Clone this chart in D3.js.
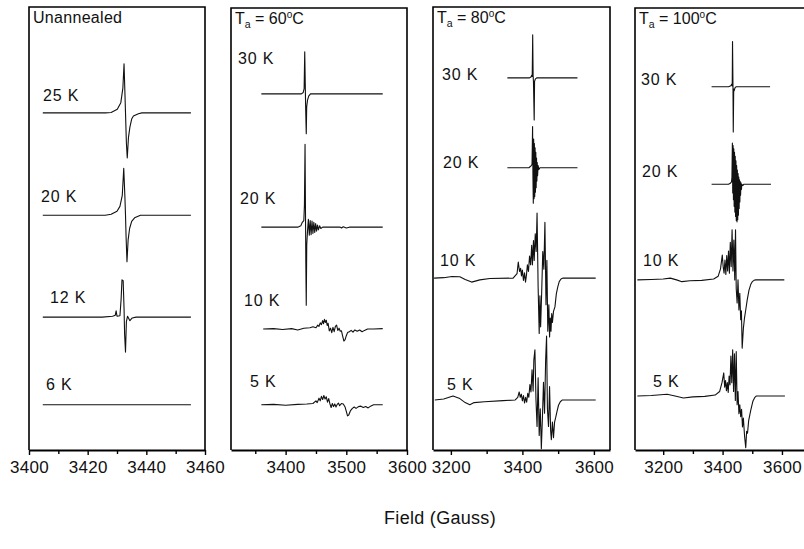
<!DOCTYPE html>
<html><head><meta charset="utf-8">
<script src="https://cdn.jsdelivr.net/npm/d3@7/dist/d3.min.js"></script>
<style>
html,body{margin:0;padding:0;background:#fff;}
svg{display:block;font-family:"Liberation Sans",Arial,Helvetica,sans-serif;}
</style></head>
<body><svg id="chart" width="804" height="549"></svg>
<script>
// ---------- DATA ----------
const panelTitles = ["Unannealed", "60", "80", "100"];           // annealing temperature (°C)
const fieldDomains = [[3400, 3460], [3310, 3600], [3150, 3645], [3105, 3681]];
const majorTicks = [[3400, 3420, 3440, 3460], [3400, 3500, 3600], [3200, 3400, 3600], [3200, 3400, 3600]];
const minorTicks = [[3410, 3430, 3450], [3350, 3450, 3550], [3300, 3500], [3300, 3500]];
const tempLabels = [["25 K", "20 K", "12 K", "6 K"], ["30 K", "20 K", "10 K", "5 K"],
                    ["30 K", "20 K", "10 K", "5 K"], ["30 K", "20 K", "10 K", "5 K"]];
const stackOffsets = [[76.1, 53.0, 30.0, 10.2], [80.4, 50.3, 27.3, 10.2],
                      [84.0, 63.7, 38.8, 11.3], [82.0, 60.0, 38.4, 12.2]];

// spectra: [field (G), signal (a.u.)]
const unann25K = [[3404.7,0],[3426,0],[3428,0.1],[3430.1,0.8],[3431.3,2.3],[3432.0,5.6],[3432.4,11.1],[3432.7,4.5],[3432.9,0],[3433.2,-6.8],[3433.5,-10.2],[3433.9,-5.6],[3434.4,-3.2],[3435,-1.4],[3435.6,-0.7],[3437.3,-0.2],[3438.5,0],[3455.2,0]];
const unann20K = [[3404.7,0],[3426,0],[3428,0.2],[3430,0.9],[3431,2.0],[3431.8,4.5],[3432.3,10.6],[3432.7,4],[3432.9,0],[3433.1,-5],[3433.4,-10.5],[3433.8,-5.5],[3434.3,-3.0],[3435,-1.4],[3436,-0.6],[3438,0],[3455.2,0]];
const unann12K = [[3404.7,0],[3425,0],[3428.5,0.2],[3429.4,0.4],[3429.7,1.4],[3430.0,0.2],[3431.0,0.3],[3431.4,4],[3431.7,8.4],[3432.1,8.2],[3432.4,2],[3432.6,-4],[3432.9,-7.9],[3433.2,-1],[3433.6,0.2],[3434.4,-0.8],[3435.2,-0.2],[3436.5,0],[3455.2,0]];
const unann6K = [[3404.7,0],[3420,0],[3440,0],[3455.2,0]];

const t60_30K = [[3360,0],[3426,0],[3429,0.3],[3430.5,1.2],[3431.5,9.5],[3432.5,1],[3433,-3],[3434,-9.0],[3434.7,-3],[3436,-1.5],[3438,-0.5],[3441,0],[3560,0]];
const t60_20K = [[3360,0],[3420,0],[3425,0.3],[3427.5,1.1],[3430,1.5],[3431,5],[3432,18.7],[3432.8,2],[3433.3,-8],[3434,-17.6],[3434.8,-4],[3436,-1],[3437.5,1.8],[3439,-1.8],[3440.5,1.5],[3442,-1.7],[3443.5,1.4],[3445,-1.4],[3446.5,1.1],[3448,-1.2],[3449.5,0.8],[3451,-0.9],[3452.5,0.5],[3454,-0.6],[3456,0.3],[3458,-0.3],[3461,0],[3490,0],[3492,-0.2],[3495,0.1],[3500,-0.2],[3505,0],[3560,0]];
const t60_10K = [[3363,0],[3380,0.1],[3395,-0.1],[3410,0.1],[3420,-0.2],[3430,0.2],[3440,0.3],[3445,0.5],[3450,0.3],[3453,0.9],[3455,0.6],[3457,1.4],[3459,1.0],[3461,1.9],[3462.5,1.2],[3464,2.2],[3465.5,1.5],[3467,2.0],[3468.5,0.8],[3470,1.3],[3472,-0.4],[3474,0.2],[3476,-0.8],[3478,0.4],[3480,-0.6],[3482,0.6],[3484,0.9],[3486,-0.3],[3488,0.2],[3490,-0.5],[3492,-0.4],[3494,-1.6],[3496,-2.7],[3498,-2.4],[3500,-1.5],[3502,-0.8],[3505,-0.6],[3508,-0.3],[3511,-0.7],[3514,-0.2],[3518,-0.5],[3522,-0.2],[3526,-0.6],[3530,-0.3],[3535,0],[3545,0],[3560,0.1]];
const t60_5K = [[3360,0],[3380,0.1],[3400,-0.1],[3420,0.1],[3435,0.2],[3445,0.3],[3450,0.9],[3452,0.5],[3455,1.5],[3457,0.9],[3459,1.9],[3461,1.2],[3463,2.1],[3465,1.3],[3467,1.8],[3469,0.6],[3471,1.4],[3473,0.2],[3475,-0.6],[3477,0.3],[3479,-0.4],[3481,0.2],[3483,-0.5],[3485,0.1],[3487,0.4],[3489,-0.2],[3492,0.3],[3495,0.2],[3498,-0.5],[3500,-1.5],[3502,-2.5],[3504,-2.3],[3507,-1.3],[3510,-0.8],[3513,-0.5],[3516,-0.8],[3520,-0.4],[3524,-0.3],[3528,-0.6],[3532,-0.4],[3536,-0.7],[3540,-0.3],[3545,0],[3560,0]];

const t80_30K = [[3358,0],[3420,0],[3424,0.2],[3426,0.6],[3427.5,0.3],[3428.8,9.7],[3430,0.5],[3431,-1],[3433,-9.5],[3434,-0.8],[3436,-0.3],[3440,0],[3554,0]];
const t80_20K = [[3358,0],[3418,0],[3422,0.3],[3425,0.5],[3427,0.8],[3428.5,9.3],[3429.5,-2],[3430.5,-8],[3431.5,6.5],[3432.5,-7],[3433.5,5.5],[3434.5,-6.5],[3435.5,4.5],[3436.5,-5.5],[3437.5,3.5],[3438.5,-4.5],[3439.5,2.2],[3440.5,-3],[3441.5,1.2],[3442.5,-1.8],[3444,0.5],[3446,-0.4],[3449,0],[3554,0]];
const t80_10K = [[3153,0],[3180,0.1],[3203,0.35],[3225,0.3],[3240,-0.3],[3258,-0.9],[3281,-0.4],[3309,-0.1],[3374,0],[3385,1.0],[3388.5,3.6],[3392,1.5],[3395,2.2],[3397.5,0.5],[3400,1.8],[3403,-0.5],[3406,1.2],[3408.7,-0.9],[3411.5,0.8],[3414,3],[3417,1.5],[3420,5],[3423,3],[3426,7.4],[3428,3],[3431,8.5],[3433,4],[3436,10],[3438.5,6],[3441,14.7],[3444,-2],[3447,-12.5],[3449,-4],[3451,-11],[3454,-3],[3457,6],[3460,2],[3463,12.6],[3466,-6],[3468.5,4],[3471,-12],[3474,-6],[3476,-13.3],[3478,-9],[3480,-12],[3482,-8],[3484,-10],[3487,-7.5],[3491,-6.5],[3495,-3.5],[3499,-2],[3503,-0.8],[3508,-0.2],[3514,0],[3605,0]];
const t80_5K = [[3155,0],[3180,0.2],[3206,0.9],[3225,0.3],[3240,-0.6],[3253,-1.1],[3265,-0.6],[3294,-0.4],[3346,-0.15],[3380,0],[3387,0.6],[3391,1.8],[3394,0.6],[3397,1.3],[3400,-0.2],[3403,1.0],[3406,-0.7],[3409,0.6],[3412,-0.5],[3415,1.5],[3418,0.6],[3421,3.5],[3424,1.8],[3427,6.8],[3430,2],[3432,9],[3435,11.3],[3438,0],[3441,-6],[3444,5],[3447,-8],[3450,-2],[3453,-11],[3456,-4],[3459,4],[3462,-3],[3465,9],[3467.6,14.4],[3470,-2],[3473,-6],[3476,3],[3479,-7],[3481,-9],[3484,-5],[3487,-8.5],[3490,-5],[3493,-4],[3497,-2.5],[3501,-1.2],[3506,-0.4],[3512,0],[3605,0]];

const t100_30K = [[3363,0],[3420,0],[3428,0.2],[3431,0.6],[3432.5,0.2],[3433.5,10.2],[3435,0.3],[3436,-10.2],[3437.5,-0.5],[3439,-0.9],[3442,-0.2],[3446,0],[3560,0]];
const t100_20K = [[3363,0],[3420,0],[3426,0.2],[3430,0.5],[3431.5,1.5],[3433,9.3],[3434.2,-2],[3435.4,8.7],[3436.6,-3.5],[3437.8,8],[3439,-5],[3440.2,7.2],[3441.4,-6.3],[3442.6,6.3],[3443.8,-7.3],[3445,5.3],[3446.2,-8.2],[3447.4,4.2],[3448.6,-8.5],[3449.8,3.2],[3451,-8],[3452.2,2.4],[3453.4,-7],[3454.6,1.6],[3455.8,-5.5],[3457,1],[3458.2,-4],[3459.4,0.6],[3460.6,-2.5],[3462,0.3],[3463.5,-1.2],[3465,0],[3468,-0.3],[3472,0],[3563,0]];
const t100_10K = [[3113,0],[3160,0.1],[3200,0.2],[3224,0.4],[3245,0],[3263,-0.4],[3290,-0.2],[3330,-0.1],[3370,0.2],[3385,0.8],[3393,2.5],[3399,5.6],[3402,3],[3405,1.5],[3408,4.5],[3411,1.2],[3414,5.5],[3417,2.0],[3420,6.5],[3423,1.5],[3426,8.5],[3429,3],[3432,11.3],[3435,2],[3438,9],[3441,0],[3443.6,11.3],[3446,-2],[3449,-5.2],[3452,0],[3455,-6.8],[3458,-3],[3461,-9],[3463.5,-7],[3466,-15.4],[3470,-11],[3474,-8.5],[3478,-6.8],[3483,-4.5],[3489,-2.3],[3495,-1],[3500,-0.4],[3506,-0.1],[3512,0],[3608,0]];
const t100_5K = [[3113,0],[3160,0.1],[3213,0.4],[3240,0],[3268,-0.45],[3300,-0.2],[3340,-0.1],[3375,0.2],[3390,1],[3398,3],[3404,5.2],[3407,2],[3410,3.5],[3413,1.2],[3416,3],[3419,0.8],[3422,4.5],[3425,2.5],[3428,9],[3431,3],[3434,10.4],[3437,1],[3440,9.5],[3443,-1],[3446,10],[3449,-2],[3452,1],[3455,-4],[3458,-2],[3461,-4.7],[3464,-3],[3467,-7],[3470,-5],[3474,-9],[3478,-11.7],[3481,-8],[3484,-8.4],[3488,-5.5],[3495,-3.2],[3502,-1.2],[3508,-0.4],[3514,0],[3610,0]];

const spectra = [[unann25K, unann20K, unann12K, unann6K],
                 [t60_30K, t60_20K, t60_10K, t60_5K],
                 [t80_30K, t80_20K, t80_10K, t80_5K],
                 [t100_30K, t100_20K, t100_10K, t100_5K]];
const xTitle = "Field (Gauss)";

// ---------- LAYOUT ----------
const panelX = [[29, 205], [231, 407], [433, 610], [635, 806]];
const panelTops = [7, 8, 7, 8];
const plotBottom = 450;
// label placement: [left x, offset of text baseline from trace baseline]
const labelPos = [[[43, -12], [41, -13], [50, -14], [46, -15]],
                  [[238, -30], [240, -23], [244, -23], [250, -18]],
                  [[442, 2], [443, 0], [440, -12], [447, -10]],
                  [[641, -2], [642, -7], [643, -14], [653, -9]]];

const svg = d3.select("#chart");

panelTitles.forEach((title, p) => {
  const x = d3.scaleLinear().domain(fieldDomains[p]).range(panelX[p]);
  const y = d3.scaleLinear().domain([0, 100]).range([plotBottom, 7]);
  const g = svg.append("g");

  // spectra
  const line = d3.line().x(d => x(d[0])).y(d => y(d[1]));
  spectra[p].forEach((s, i) => {
    const off = stackOffsets[p][i];
    g.append("path")
      .datum(s.map(d => [d[0], d[1] + off]))
      .attr("d", line)
      .attr("fill", "none")
      .attr("stroke", "#111")
      .attr("stroke-width", 1.1)
      .attr("stroke-linejoin", "round");
    const lp = labelPos[p][i];
    g.append("text")
      .attr("x", lp[0])
      .attr("y", y(off) + lp[1])
      .attr("font-size", 16)
      .attr("letter-spacing", "0.8px")
      .attr("fill", "#111")
      .text(tempLabels[p][i]);
  });

  // frame
  const x0 = panelX[p][0], x1 = panelX[p][1], top = panelTops[p];
  g.append("path")
    .attr("d", `M${x0},${plotBottom}V${top}H${x1}V${plotBottom}`)
    .attr("fill", "none").attr("stroke", "#000").attr("stroke-width", 1.6);

  // x axis
  const ax = g.append("g").attr("transform", `translate(0,${plotBottom})`)
    .call(d3.axisBottom(x).tickValues(majorTicks[p]).tickSize(5).tickSizeOuter(0).tickFormat(d3.format("d")));
  ax.select(".domain").attr("stroke", "#000").attr("stroke-width", 1.8);
  ax.selectAll(".tick line").attr("stroke", "#000").attr("stroke-width", 1.4);
  ax.selectAll(".tick text").attr("font-size", 17).attr("font-family", "'Liberation Sans', Arial, sans-serif")
    .attr("fill", "#111").attr("dy", "0.9em").attr("letter-spacing", "0.3px");
  const axm = g.append("g").attr("transform", `translate(0,${plotBottom})`)
    .call(d3.axisBottom(x).tickValues(minorTicks[p]).tickSize(4).tickFormat(""));
  axm.select(".domain").remove();
  axm.selectAll(".tick line").attr("stroke", "#000").attr("stroke-width", 1.4);

  // title
  const t = g.append("text").attr("x", x0 + 4).attr("y", top + 16).attr("font-size", 16).attr("fill", "#111");
  if (p === 0) {
    t.attr("letter-spacing", "0.3px").text(title);
  } else {
    t.append("tspan").text("T");
    t.append("tspan").attr("font-size", 10.5).attr("dy", 4).text("a");
    t.append("tspan").attr("dy", -4).text(" = " + title);
    t.append("tspan").attr("font-size", 10).attr("dy", -6).text("o");
    t.append("tspan").attr("dy", 6).text("C");
  }
});

svg.append("text").attr("x", 440).attr("y", 524).attr("text-anchor", "middle")
  .attr("font-size", 18).attr("fill", "#111").attr("letter-spacing", "0.3px").text(xTitle);
</script></body></html>
